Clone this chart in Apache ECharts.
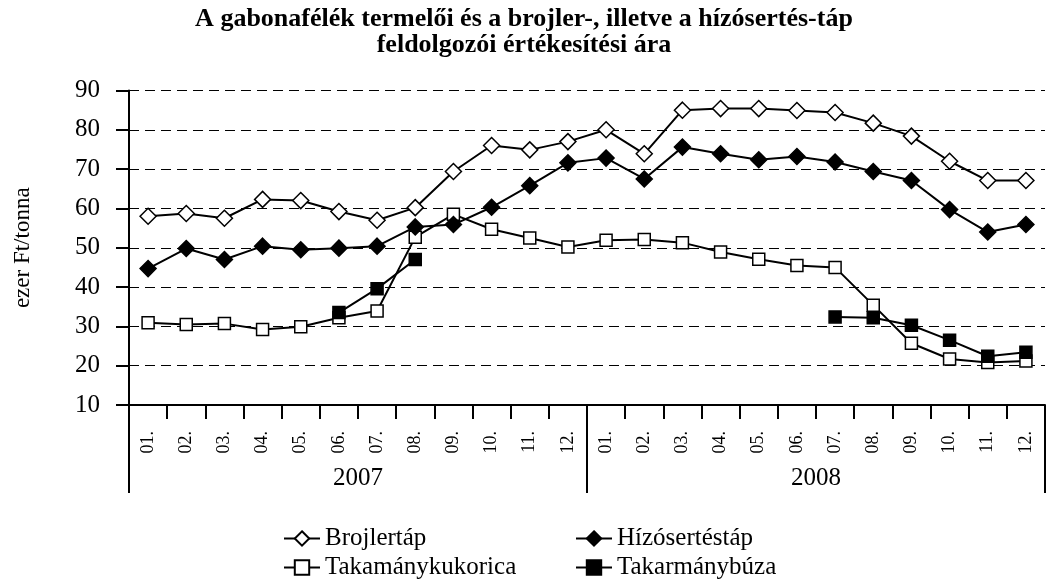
<!DOCTYPE html>
<html>
<head>
<meta charset="utf-8">
<script src="https://cdn.jsdelivr.net/npm/echarts@6/dist/echarts.min.js"></script>
<style>html,body{margin:0;padding:0;background:#fff}#c{width:1048px;height:584px}</style>
</head>
<body>
<div id="c"></div>
<script>
var years = ['2007', '2008'];
var months = ['01.', '02.', '03.', '04.', '05.', '06.', '07.', '08.', '09.', '10.', '11.', '12.'];
var yTicks = [10, 20, 30, 40, 50, 60, 70, 80, 90];

var brojlertap = [58.0, 58.7, 57.5, 62.3, 62.0, 59.2, 57.0, 60.2, 69.4, 76.0, 74.9, 77.0,
                  80.0, 73.9, 85.0, 85.4, 85.4, 84.9, 84.4, 81.7, 78.4, 72.0, 67.1, 67.1];
var hizosertestap = [44.7, 49.8, 47.0, 50.4, 49.5, 49.9, 50.4, 55.3, 55.9, 60.3, 65.8, 71.6,
                     72.8, 67.5, 75.6, 73.9, 72.4, 73.2, 71.8, 69.4, 67.1, 59.7, 54.0, 55.9];
var kukorica = [30.9, 30.5, 30.7, 29.2, 29.9, 32.2, 33.9, 52.7, 58.5, 54.7, 52.5, 50.2,
                51.9, 52.1, 51.3, 48.9, 47.1, 45.5, 45.0, 35.4, 25.7, 21.7, 20.8, 21.2];
var buza = [null, null, null, null, null, 33.5, 39.6, 47.0, null, null, null, null,
            null, null, null, null, null, null, 32.4, 32.2, 30.3, 26.5, 22.4, 23.4];

var categories = [];
years.forEach(function (y) { months.forEach(function (m) { categories.push(y + '-' + m); }); });

var FONT = 'Liberation Serif';
var chart = echarts.init(document.getElementById('c'), null, { renderer: 'canvas' });

function lineSeries(name, data, symbol, size, filled) {
  return {
    name: name, type: 'line', data: data, xAxisIndex: 0,
    symbol: symbol, symbolSize: size, showAllSymbol: true, connectNulls: false,
    lineStyle: { color: '#000', width: 2 },
    itemStyle: { color: filled ? '#000' : '#fff', borderColor: '#000', borderWidth: 1.5 },
    emphasis: { disabled: true },
    animation: false, z: filled ? 3 : 2
  };
}

function legendItem(name, left, top) {
  return {
    left: left, top: top, itemWidth: 36, itemHeight: 18, itemGap: 0, padding: 0,
    data: [name], selectedMode: false,
    lineStyle: { width: 2, color: '#000' },
    textStyle: { fontFamily: FONT, fontSize: 25, color: '#000' }
  };
}

chart.setOption({
  animation: false,
  backgroundColor: '#fff',
  title: {
    text: 'A gabonafélék termelői és a brojler-, illetve a hízósertés-táp\nfeldolgozói értékesítési ára',
    left: 'center', top: 1,
    textStyle: { fontFamily: FONT, fontWeight: 'bold', fontSize: 26, lineHeight: 26, color: '#000' }
  },
  legend: [
    legendItem('Brojlertáp', 283, 526),
    legendItem('Takamánykukorica', 283, 555),
    legendItem('Hízósertéstáp', 575, 526),
    legendItem('Takarmánybúza', 575, 555)
  ],
  grid: { left: 129, right: 3, top: 90.5, bottom: 179, containLabel: false },
  xAxis: [{
    type: 'category', data: categories, boundaryGap: true, position: 'bottom',
    axisLine: { lineStyle: { color: '#000', width: 2 } },
    axisTick: { show: true, length: 14, lineStyle: { color: '#000', width: 2 } },
    axisLabel: {
      rotate: 90, margin: 26, interval: 0, fontFamily: FONT, fontSize: 18, color: '#000',
      formatter: function (v) { return v.split('-')[1]; }
    },
    splitLine: { show: false }
  }, {
    type: 'category', data: years, boundaryGap: true, position: 'bottom',
    axisLine: { show: false },
    axisTick: { show: true, length: 88, lineStyle: { color: '#000', width: 2 } },
    axisLabel: { margin: 61, fontFamily: FONT, fontSize: 25, color: '#000' },
    splitLine: { show: false }
  }],
  yAxis: {
    type: 'value', min: yTicks[0], max: yTicks[yTicks.length - 1], interval: 10,
    name: 'ezer Ft/tonna', nameLocation: 'middle', nameRotate: 90, nameGap: 95,
    nameTextStyle: { fontFamily: FONT, fontSize: 23, color: '#000' },
    axisLine: { show: true, lineStyle: { color: '#000', width: 2 } },
    axisTick: { show: true, length: 13, lineStyle: { color: '#000', width: 2 } },
    axisLabel: { margin: 29, fontFamily: FONT, fontSize: 25, color: '#000' },
    splitLine: { show: true, lineStyle: { color: '#000', width: 1, type: [10, 6] } }
  },
  series: [
    lineSeries('Brojlertáp', brojlertap, 'diamond', 16, false),
    lineSeries('Hízósertéstáp', hizosertestap, 'diamond', 16, true),
    lineSeries('Takamánykukorica', kukorica, 'rect', 12, false),
    lineSeries('Takarmánybúza', buza, 'rect', 12, true)
  ]
});
</script>
</body>
</html>
